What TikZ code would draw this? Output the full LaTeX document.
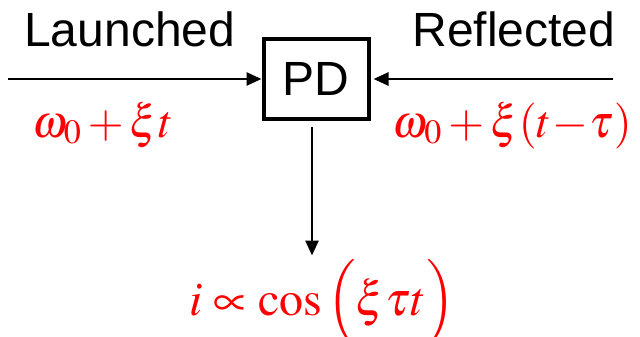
\documentclass[tikz,border=0pt]{standalone}
\usepackage{mathptmx}
\usepackage[no-math]{fontspec}
\newfontfamily\arialfont{Liberation Sans}
\usetikzlibrary{arrows.meta, positioning}

\begin{document}
\begin{tikzpicture}[x=1pt, y=1pt, line width=2.6pt, >={Triangle[width=13pt,length=15pt]},
    lbl/.style={font=\arialfont\fontsize{48}{56}\selectfont, inner sep=0pt},
    eq/.style={text=red, font=\fontsize{46}{56}\selectfont, inner sep=0pt}]
    \useasboundingbox (0,0) rectangle (640,-337);
    \node[draw, lbl, line width=4pt, minimum width=105pt, minimum height=80pt] (pd) at (316,-79) {PD};
    \coordinate[left=253.5pt of pd.west] (lin);
    \coordinate[right=242.5pt of pd.east] (rin);
    \node[lbl, above right=32pt and 15pt of lin, anchor=base west] (launch) {Launched};
    \node[lbl, above left=32pt and -3.5pt of rin, anchor=base east] (refl) {Reflected};
    \node[eq, below right=58pt and 23pt of lin, anchor=base west] (wl) {$\omega_0+\xi t$};
    \node[eq, below left=58pt and -20pt of rin, anchor=base east] (wr) {$\omega_0+\xi(t\!-\!\tau)$};
    \node[eq, font=\fontsize{48}{56}\selectfont, below=236pt of pd.center, xshift=6pt, anchor=base] (out) {$i\propto\cos\,\Bigl(\xi\tau t\Bigr)$};
    \draw[->] (lin) -- (pd);
    \draw[->, shorten >=3pt] (rin) -- (pd);
    \draw[->, shorten <=6pt, shorten >=3pt] ([xshift=-4pt]pd.south) -- ([xshift=-4pt]pd.south |- out.north);
\end{tikzpicture}
\end{document}
